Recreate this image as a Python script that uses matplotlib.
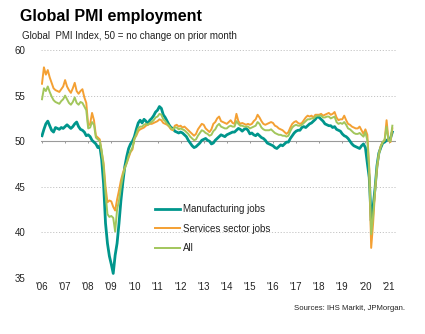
import numpy as np
import matplotlib
matplotlib.use("Agg")
import matplotlib.pyplot as plt

plt.rcParams['font.family'] = ['Liberation Sans', 'DejaVu Sans']

# Monthly PMI employment indices, Jan 2006 - Mar 2021
manufacturing = [
    50.6, 51.3, 51.9, 52.2, 51.7, 51.2, 51.0, 51.5, 51.4, 51.3, 51.5, 51.4,  # 2006
    51.6, 51.8, 51.6, 51.4, 51.6, 51.9, 52.1, 51.6, 51.3, 51.2, 51.0, 50.6,  # 2007
    50.7, 50.5, 50.1, 49.9, 49.7, 49.3, 49.5, 48.0, 45.3, 41.0, 38.8, 37.4,  # 2008
    36.5, 35.5, 37.5, 38.8, 41.0, 43.5, 45.5, 47.2, 48.3, 49.2, 49.7, 50.0,  # 2009
    50.5, 51.3, 52.0, 52.3, 52.0, 52.4, 52.2, 51.9, 52.3, 52.5, 52.8, 53.2,  # 2010
    53.4, 53.8, 53.6, 52.9, 52.6, 52.2, 51.8, 51.5, 51.4, 51.1, 51.0, 50.9,  # 2011
    51.0, 50.9, 50.7, 50.5, 50.1, 49.8, 49.5, 49.3, 49.4, 49.6, 49.8, 50.1,  # 2012
    50.2, 50.3, 50.1, 50.0, 49.7, 49.8, 50.1, 50.3, 50.5, 50.7, 50.6, 50.5,  # 2013
    50.7, 50.8, 50.9, 51.0, 51.0, 51.2, 51.4, 51.3, 51.1, 51.3, 51.4, 51.2,  # 2014
    50.8, 50.9, 50.7, 50.6, 50.8, 50.6, 50.4, 50.3, 50.1, 49.8, 49.7, 49.6,  # 2015
    49.5, 49.3, 49.2, 49.4, 49.6, 49.5, 49.7, 49.9, 49.9, 50.3, 50.6, 50.9,  # 2016
    51.1, 51.2, 51.2, 51.5, 51.6, 51.5, 51.7, 51.9, 52.0, 52.2, 52.4, 52.7,  # 2017
    52.6, 52.4, 52.2, 51.9, 51.8, 51.7, 51.7, 51.5, 51.6, 51.3, 51.2, 51.1,  # 2018
    50.8, 50.6, 50.5, 50.3, 50.0, 49.7, 49.5, 49.4, 49.3, 49.2, 49.5, 49.7,  # 2019
    49.3, 47.6, 46.0, 41.3, 42.8, 44.8, 47.3, 48.7, 49.3, 49.8, 49.9, 50.1,  # 2020
    50.2, 50.3, 51.0,                                                        # 2021
]

services = [
    56.3, 58.1, 57.3, 57.8, 57.0, 56.4, 55.8, 55.6, 55.5, 55.4, 55.7, 56.0,  # 2006
    56.7, 56.0, 55.6, 55.3, 55.8, 56.4, 55.5, 55.2, 55.5, 55.7, 54.8, 54.2,  # 2007
    51.7, 51.9, 53.1, 52.3, 50.6, 50.4, 50.2, 48.8, 47.6, 45.0, 43.3, 43.5,  # 2008
    43.4, 42.8, 42.4, 43.6, 44.6, 45.7, 46.5, 47.1, 47.6, 48.2, 48.8, 49.1,  # 2009
    50.3, 50.6, 51.1, 51.3, 51.4, 51.5, 51.7, 51.8, 51.9, 51.9, 52.0, 52.1,  # 2010
    52.2, 52.4, 52.3, 52.0, 51.9, 51.8, 51.6, 51.3, 51.2, 51.7, 51.8, 51.6,  # 2011
    51.7, 51.5, 51.6, 51.4, 51.2, 51.0, 50.8, 50.6, 50.8, 51.3, 51.6, 51.9,  # 2012
    51.8, 51.4, 51.2, 51.0, 51.3, 51.9, 52.1, 52.5, 52.7, 52.2, 52.1, 52.0,  # 2013
    51.9, 52.1, 52.3, 52.0, 51.9, 53.0, 52.2, 51.9, 52.0, 51.9, 51.8, 51.9,  # 2014
    51.8, 51.9, 52.2, 52.4, 52.9, 52.6, 52.2, 51.9, 51.8, 51.9, 52.0, 52.1,  # 2015
    52.0, 51.7, 51.6, 51.4, 51.3, 51.2, 51.0, 50.8, 51.0, 51.5, 51.9, 52.1,  # 2016
    52.2, 52.0, 51.9, 52.0, 52.3, 52.6, 52.8, 52.7, 52.8, 52.6, 52.9, 52.9,  # 2017
    52.9, 53.0, 52.8, 52.9, 53.0, 53.1, 52.9, 53.0, 53.2, 52.6, 52.3, 52.4,  # 2018
    52.4, 52.8, 52.3, 51.9, 51.8, 51.6, 51.5, 51.4, 51.4, 51.6, 51.2, 50.8,  # 2019
    51.3, 50.7, 47.0, 38.3, 41.0, 44.5, 47.0, 48.6, 49.5, 49.9, 50.1, 52.3,  # 2020
    50.1, 49.9, 51.4,                                                        # 2021
]

all_sectors = [
    54.6, 55.8, 55.5, 56.0, 55.4, 54.9, 54.5, 54.3, 54.2, 54.1, 54.4, 54.6,  # 2006
    55.0, 54.6, 54.2, 54.0, 54.3, 54.8, 54.2, 54.0, 54.3, 54.2, 53.8, 53.4,  # 2007
    51.4, 51.5, 52.1, 51.8, 50.4, 50.2, 50.0, 49.0, 47.2, 44.3, 42.0, 41.7,  # 2008
    41.8, 41.6, 40.1, 42.5, 43.5, 45.0, 46.2, 47.0, 47.6, 48.4, 48.9, 49.3,  # 2009
    50.2, 50.8, 51.4, 51.6, 51.6, 51.8, 51.9, 51.8, 52.0, 52.1, 52.3, 52.6,  # 2010
    52.7, 53.0, 52.9, 52.4, 52.2, 51.9, 51.7, 51.4, 51.3, 51.5, 51.5, 51.3,  # 2011
    51.4, 51.3, 51.2, 51.0, 50.8, 50.5, 50.3, 50.1, 50.2, 50.6, 50.9, 51.2,  # 2012
    51.1, 50.9, 50.8, 50.6, 50.7, 51.1, 51.3, 51.7, 51.9, 51.6, 51.5, 51.4,  # 2013
    51.4, 51.6, 51.7, 51.6, 51.6, 52.2, 51.9, 51.7, 51.7, 51.6, 51.6, 51.6,  # 2014
    51.4, 51.5, 51.6, 51.7, 52.1, 51.9, 51.5, 51.3, 51.2, 51.2, 51.2, 51.3,  # 2015
    51.1, 50.9, 50.8, 50.7, 50.7, 50.6, 50.6, 50.5, 50.6, 51.1, 51.5, 51.7,  # 2016
    51.8, 51.7, 51.7, 51.8, 52.0, 52.2, 52.4, 52.4, 52.5, 52.5, 52.7, 52.8,  # 2017
    52.8, 52.8, 52.6, 52.6, 52.7, 52.7, 52.5, 52.6, 52.7, 52.1, 51.9, 52.0,  # 2018
    51.9, 52.1, 51.8, 51.4, 51.3, 51.1, 50.9, 50.8, 50.8, 50.9, 50.7, 50.5,  # 2019
    51.0, 50.1, 46.8, 39.8, 41.8, 44.6, 47.2, 48.6, 49.4, 49.9, 50.2, 51.6,  # 2020
    50.1, 50.0, 51.7,                                                        # 2021
]

years = list(range(2006, 2022))
year_labels = ["'%02d" % (y % 100) for y in years]
y_ticks = [35, 40, 45, 50, 55, 60]

series_names = ["Manufacturing jobs", "Services sector jobs", "All"]
colors = ["#00968C", "#F4A033", "#A2C65C"]
widths = [2.0, 1.4, 1.4]

t = 2006 + np.arange(len(manufacturing)) / 12.0

fig = plt.figure(figsize=(4.25, 3.34), dpi=100)
ax = fig.add_axes([41 / 425, 56 / 334, 355 / 425, 228 / 334])

# Horizontal reference lines
for v in y_ticks:
    if v == 50:
        ax.axhline(v, color="#9a9a9a", lw=0.8, zorder=1)
    else:
        ax.axhline(v, color="#c4c4c4", lw=0.7, ls=(0, (1.2, 1.8)), zorder=1)

# Small year ticks on the 50 line
ax.vlines(years, 49.75, 50, color="#9a9a9a", lw=0.7, zorder=1)

for vals, name, c, w in zip([manufacturing, services, all_sectors], series_names, colors, widths):
    ax.plot(t, vals, color=c, lw=w, label=name, zorder=3, solid_joinstyle="round")

ax.set_xlim(2006 - 1 / 23.1, 2006 + 355 / 23.1 - 1 / 23.1)
ax.set_ylim(35, 60)
ax.set_xticks(years)
ax.set_xticklabels(year_labels)
ax.set_yticks(y_ticks)
ax.tick_params(axis="both", length=0, labelsize=7, colors="#222222")
ax.tick_params(axis="y", pad=11)
ax.tick_params(axis="x", pad=3)
for s in ax.spines.values():
    s.set_visible(False)

leg = ax.legend(loc="upper left", bbox_to_anchor=((155 - 41) / 355, (278 - 204) / 228),
                frameon=False, fontsize=7, handlelength=2.6, handletextpad=0.25,
                labelspacing=1.0, borderpad=0, borderaxespad=0)
for txt in leg.get_texts():
    txt.set_color("#222222")

fig.text(20 / 425, 1 - 17 / 334, "Global PMI employment", fontsize=11.5, fontweight="bold",
         va="center", ha="left", color="#000000")
fig.text(22 / 425, 1 - 36 / 334, "Global  PMI Index, 50 = no change on prior month",
         fontsize=7.0, va="center", ha="left", color="#222222")
fig.text(405 / 425, 1 - 308 / 334, "Sources: IHS Markit, JPMorgan.", fontsize=5.6,
         va="center", ha="right", color="#222222")

fig.savefig("out.png", dpi=100)
